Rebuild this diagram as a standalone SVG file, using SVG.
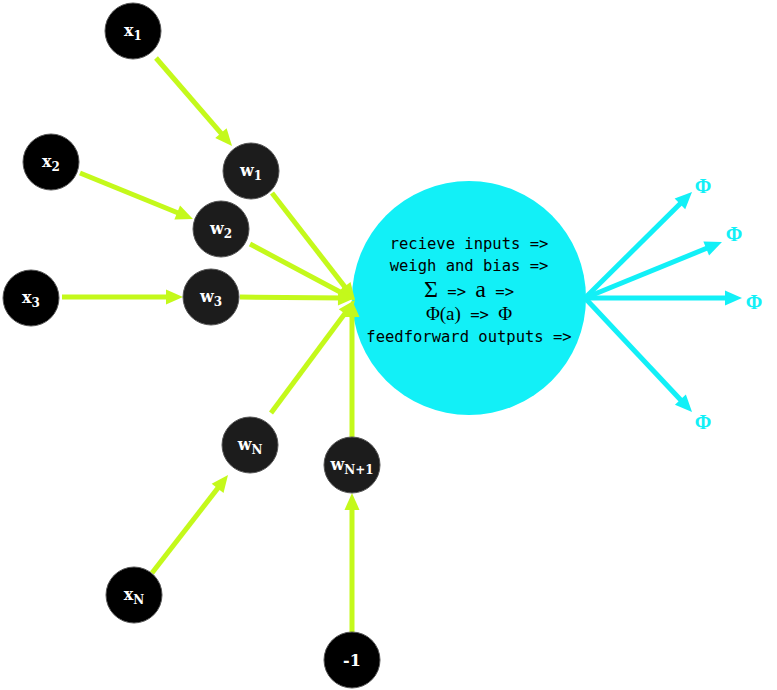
<svg xmlns="http://www.w3.org/2000/svg" width="777" height="690" viewBox="0 0 777 690">
<style>
.nx{fill:#000;stroke:#555;stroke-width:1}
.nw{fill:#1c1c1c;stroke:#555;stroke-width:1}
.lbl{fill:#fff;font-family:"DejaVu Serif",serif;font-weight:bold;font-size:16px;text-anchor:middle}
.sub{font-family:"DejaVu Serif",serif;font-size:12px;font-weight:bold}
.g{stroke:#c4f91b;stroke-width:5;fill:none}
.c{stroke:#12f0f7;stroke-width:5;fill:none}
.mono{font-family:"DejaVu Sans Mono",monospace;font-size:15.5px;fill:#000}
.ser{font-family:"Liberation Serif","DejaVu Serif",serif;fill:#000}
.phi{font-family:"Liberation Serif",serif;font-weight:bold;font-size:20px;fill:#12f0f7;text-anchor:middle}
</style>
<defs>
<marker id="ag" markerUnits="userSpaceOnUse" markerWidth="18" markerHeight="16" refX="7" refY="7.5" orient="auto" overflow="visible">
<path d="M0,0 L17,7.5 L0,15 z" fill="#c4f91b"/>
</marker>
<marker id="ac" markerUnits="userSpaceOnUse" markerWidth="18" markerHeight="16" refX="7" refY="7.5" orient="auto" overflow="visible">
<path d="M0,0 L17,7.5 L0,15 z" fill="#12f0f7"/>
</marker>
</defs>
<rect width="777" height="690" fill="#fff"/>

<g id="neuron">
<circle cx="469" cy="298" r="117" fill="#12f0f7"/>
<text class="mono" x="469" y="249" text-anchor="middle">recieve inputs =&gt;</text>
<text class="mono" x="469" y="271" text-anchor="middle">weigh and bias =&gt;</text>
<text x="469" y="297" text-anchor="middle"><tspan class="ser" font-size="24">Σ</tspan><tspan class="mono"> =&gt; </tspan><tspan class="ser" font-size="24">a</tspan><tspan class="mono"> =&gt;</tspan></text>
<text x="469" y="320" text-anchor="middle"><tspan class="ser" font-size="19">Φ(a)</tspan><tspan class="mono"> =&gt; </tspan><tspan class="ser" font-size="19">Φ</tspan></text>
<text class="mono" x="469" y="342" text-anchor="middle">feedforward outputs =&gt;</text>
</g>

<g id="connectors">
<line class="g" x1="156" y1="58" x2="225.5" y2="138.4" marker-end="url(#ag)"/>
<line class="g" x1="80" y1="173" x2="183.7" y2="215.2" marker-end="url(#ag)"/>
<line class="g" x1="62" y1="297" x2="173" y2="297" marker-end="url(#ag)"/>
<line class="g" x1="152" y1="573" x2="221.9" y2="482.9" marker-end="url(#ag)"/>
<line class="g" x1="352" y1="632" x2="352" y2="503" marker-end="url(#ag)"/>
<line class="g" x1="272" y1="193" x2="348.9" y2="292.1" marker-end="url(#ag)"/>
<line class="g" x1="250" y1="244" x2="346.2" y2="295.3" marker-end="url(#ag)"/>
<line class="g" x1="240" y1="297" x2="345" y2="298" marker-end="url(#ag)"/>
<line class="g" x1="271" y1="413" x2="349" y2="308" marker-end="url(#ag)"/>
<line class="g" x1="352" y1="437" x2="352" y2="310" marker-end="url(#ag)"/>
<line class="c" x1="585" y1="298" x2="684.9" y2="199" marker-end="url(#ac)"/>
<line class="c" x1="585" y1="298" x2="712.7" y2="245.8" marker-end="url(#ac)"/>
<line class="c" x1="585" y1="298" x2="732" y2="298" marker-end="url(#ac)"/>
<line class="c" x1="585" y1="298" x2="685.2" y2="404.7" marker-end="url(#ac)"/>
</g>

<g id="outputs">
<text class="phi" x="703" y="193">Φ</text>
<text class="phi" x="734" y="241">Φ</text>
<text class="phi" x="754" y="309">Φ</text>
<text class="phi" x="703" y="429">Φ</text>
</g>

<g id="x1"><circle class="nx" cx="133" cy="31" r="28"/><text class="lbl" x="133" y="36">x<tspan class="sub" dy="4">1</tspan></text></g>
<g id="x2"><circle class="nx" cx="51" cy="162" r="28"/><text class="lbl" x="51" y="167">x<tspan class="sub" dy="4">2</tspan></text></g>
<g id="x3"><circle class="nx" cx="31" cy="298" r="28"/><text class="lbl" x="31" y="303">x<tspan class="sub" dy="4">3</tspan></text></g>
<g id="xN"><circle class="nx" cx="134" cy="595" r="28"/><text class="lbl" x="134" y="600">x<tspan class="sub" dy="4">N</tspan></text></g>
<g id="bias"><circle class="nx" cx="352" cy="660" r="28"/><text class="lbl" x="352" y="666">-1</text></g>
<g id="w1"><circle class="nw" cx="251" cy="171" r="28"/><text class="lbl" x="251" y="176">w<tspan class="sub" dy="4">1</tspan></text></g>
<g id="w2"><circle class="nw" cx="221" cy="229" r="28"/><text class="lbl" x="221" y="234">w<tspan class="sub" dy="4">2</tspan></text></g>
<g id="w3"><circle class="nw" cx="211" cy="297" r="28"/><text class="lbl" x="211" y="302">w<tspan class="sub" dy="4">3</tspan></text></g>
<g id="wN"><circle class="nw" cx="250" cy="445" r="28"/><text class="lbl" x="250" y="450">w<tspan class="sub" dy="4">N</tspan></text></g>
<g id="wN1"><circle class="nw" cx="352" cy="465" r="28"/><text class="lbl" x="352" y="470">w<tspan class="sub" dy="4">N+1</tspan></text></g>
</svg>
